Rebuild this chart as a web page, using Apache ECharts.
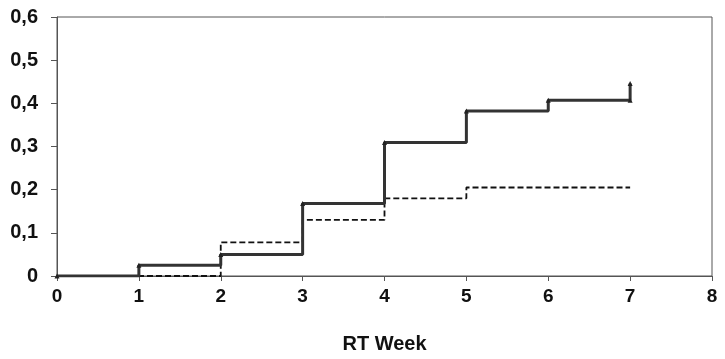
<!DOCTYPE html>
<html>
<head>
<meta charset="utf-8">
<script src="https://cdn.jsdelivr.net/npm/echarts@6/dist/echarts.min.js"></script>
<style>
  html, body { margin: 0; padding: 0; background: #fff; }
  #chart { width: 725px; height: 359px; }
</style>
</head>
<body>
<div id="chart"></div>
<script>
// RT week of each step and cumulative value after it
var solidWeeks = [0, 1, 2, 3, 4, 5, 6, 7, 7]
var solidValues = [0, 0.025, 0.050, 0.168, 0.309, 0.382, 0.407, 0.407, 0.446]
var dashedWeeks = [0, 1, 2, 3, 4, 5, 7]
var dashedValues = [0, 0, 0.078, 0.130, 0.180, 0.205, 0.205]

var fontFamily = '"Liberation Sans", Arial, sans-serif'

function pairs(xs, ys) {
  return xs.map(function (x, i) { return [x, ys[i]] })
}

var chart = echarts.init(document.getElementById('chart'), null, { renderer: 'canvas' })

var option = {
  animation: false,
  backgroundColor: '#fff',
  grid: {
    left: 57,
    right: 13,
    top: 17,
    bottom: 83,
    show: true,
    borderColor: '#555',
    borderWidth: 1
  },
  xAxis: {
    type: 'value',
    min: 0,
    max: 8,
    interval: 1,
    name: 'RT Week',
    nameLocation: 'middle',
    nameGap: 58,
    nameTextStyle: { color: '#111', fontSize: 20, fontWeight: 'bold', fontFamily: fontFamily },
    axisLine: { show: true, lineStyle: { color: '#555', width: 1 } },
    axisTick: { show: true, inside: false, length: 5, lineStyle: { color: '#555' } },
    axisLabel: { color: '#111', fontSize: 19, fontWeight: 'bold', fontFamily: fontFamily, margin: 11 },
    splitLine: { show: false }
  },
  yAxis: {
    type: 'value',
    min: 0,
    max: 0.6,
    interval: 0.1,
    axisLine: { show: true, lineStyle: { color: '#555', width: 1 } },
    axisTick: { show: true, inside: false, length: 6, lineStyle: { color: '#555' } },
    axisLabel: {
      color: '#111',
      fontSize: 20,
      fontWeight: 'bold',
      fontFamily: fontFamily,
      margin: 19,
      formatter: function (v) {
        return v === 0 ? '0' : v.toFixed(1).replace('.', ',')
      }
    },
    splitLine: { show: false }
  },
  series: [
    {
      name: 'dashed',
      type: 'line',
      step: 'end',
      data: pairs(dashedWeeks, dashedValues),
      showSymbol: false,
      lineStyle: { color: '#111', width: 1.8, type: [6, 3] },
      z: 2
    },
    {
      name: 'solid',
      type: 'line',
      step: 'end',
      data: pairs(solidWeeks, solidValues),
      symbol: 'triangle',
      symbolSize: 5,
      itemStyle: { color: '#222' },
      lineStyle: { color: '#333', width: 3 },
      z: 3
    }
  ]
}

chart.setOption(option)
</script>
</body>
</html>
